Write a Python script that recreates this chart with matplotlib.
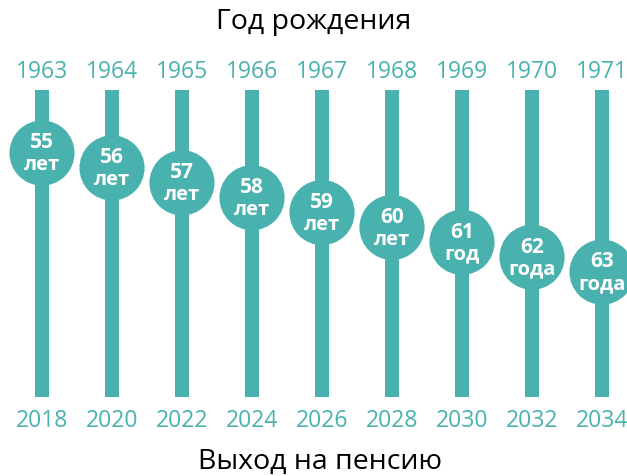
import matplotlib
matplotlib.use("Agg")
from matplotlib import pyplot as plt

birth_years = ["1963", "1964", "1965", "1966", "1967", "1968", "1969", "1970", "1971"]
retire_years = ["2018", "2020", "2022", "2024", "2026", "2028", "2030", "2032", "2034"]
ages = [55, 56, 57, 58, 59, 60, 61, 62, 63]
age_words = ["лет", "лет", "лет", "лет", "лет", "лет", "год", "года", "года"]

teal = "#4AB2AE"
plt.rcParams["font.family"] = ["Open Sans", "DejaVu Sans"]

fig = plt.figure(figsize=(6.27, 4.77), dpi=100)
ax = fig.add_axes([0, 0, 1, 1])
ax.set_xlim(-0.6, 8.357)
# y axis in "age" units, inverted: 55 -> circle near top
ax.set_ylim(76.7, 44.65)
ax.axis("off")

x = list(range(len(ages)))

# vertical bars
bar_top, bar_bottom = 50.75, 71.4
ax.bar(x, [bar_bottom - bar_top] * len(x), bottom=bar_top, width=0.2,
       color=teal, zorder=1)

# circles at the retirement age
ax.scatter(x, ages, s=2200, color=teal, edgecolors="none", zorder=2)

for i, (a, w) in enumerate(zip(ages, age_words)):
    ax.text(i, a - 0.75, str(a), ha="center", va="center", color="white",
            fontsize=15, fontweight="bold", zorder=3)
    ax.text(i, a + 0.75, w, ha="center", va="center", color="white",
            fontsize=14.5, fontweight="bold", zorder=3)

tr = ax.get_xaxis_transform()
for i, (b, r) in enumerate(zip(birth_years, retire_years)):
    ax.text(i, 1 - 72 / 477, b, transform=tr, ha="center", va="center",
            color=teal, fontsize=16.5)
    ax.text(i, 1 - 421 / 477, r, transform=tr, ha="center", va="center",
            color=teal, fontsize=16.5)

fig.text(0.5, 1 - 22 / 477, "Год рождения", ha="center", va="center",
         color="black", fontsize=20.5)
fig.text(0.51, 1 - 462 / 477, "Выход на пенсию", ha="center", va="center",
         color="black", fontsize=20.5)

fig.savefig("out.png", dpi=100, facecolor="white")
